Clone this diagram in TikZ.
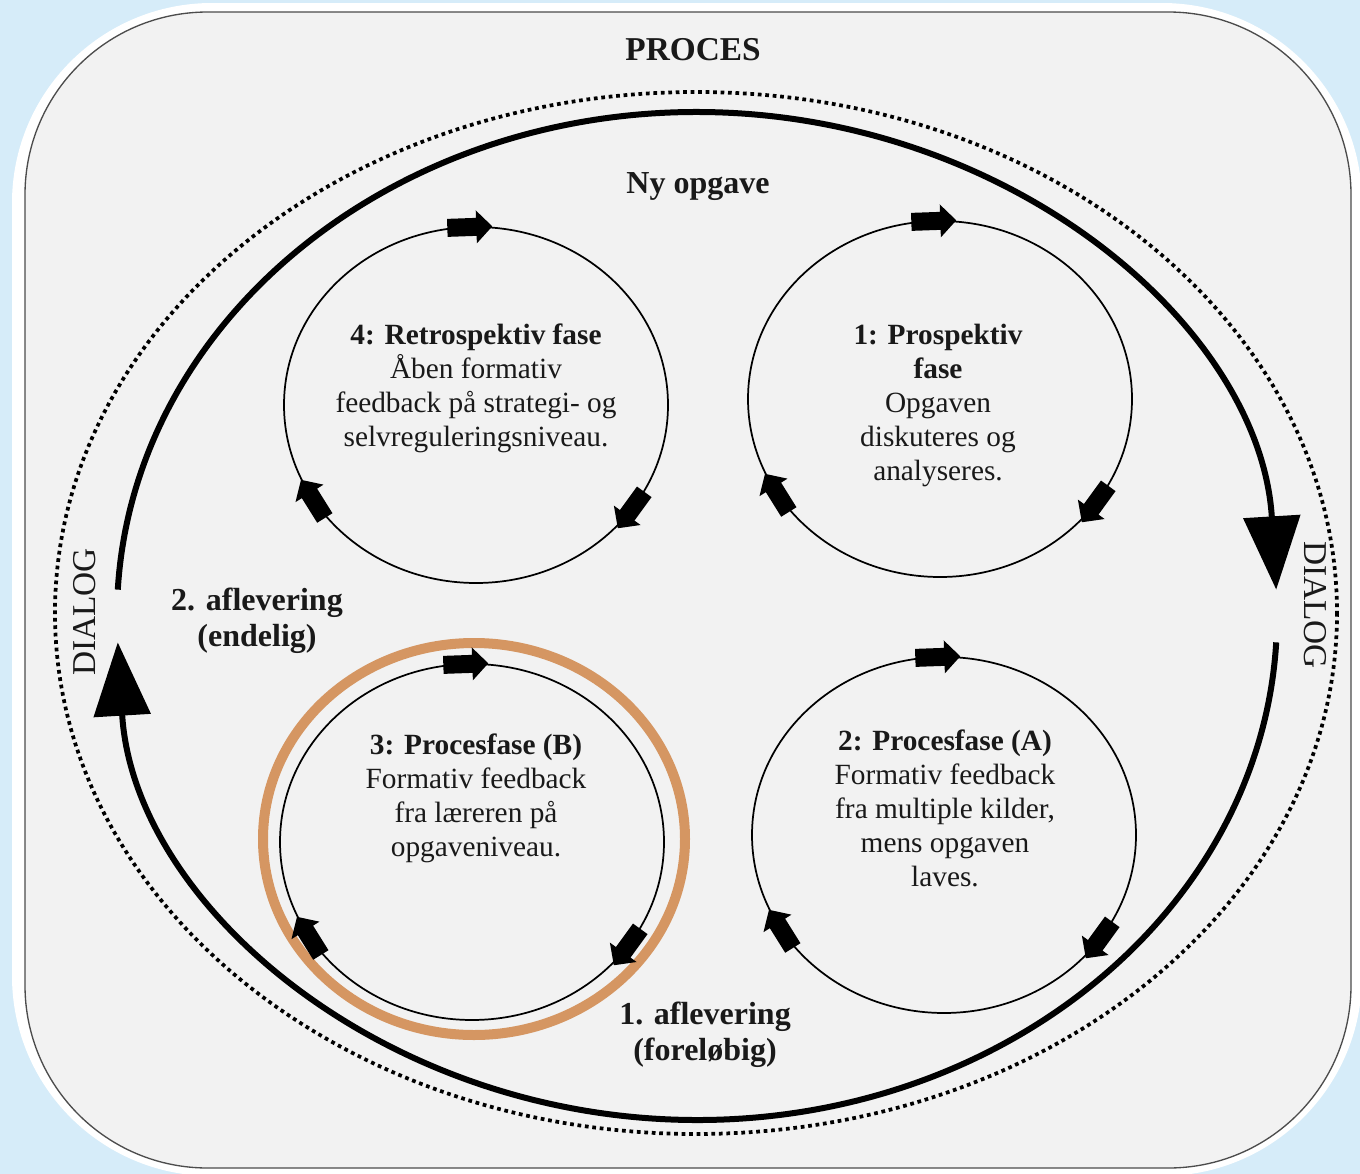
\documentclass[tikz,border=0pt]{standalone}
\usepackage{fontspec}
\setmainfont{Liberation Serif}
\usetikzlibrary{arrows.meta}

\definecolor{baggrund}{RGB}{214,236,249}
\definecolor{procesgraa}{RGB}{242,242,242}
\definecolor{ringfarve}{RGB}{213,150,98}

\begin{document}
\begin{tikzpicture}[x=0.75pt,y=0.75pt,yscale=-1,xscale=1,
  fasecirkel/.style={line width=1.3pt},
  tekst/.style={inner sep=0.75pt, align=center, font=\fontsize{22}{25.5}\selectfont, text=black!90},
  fed/.style={inner sep=0.75pt, align=center, font=\fontsize{24}{27}\selectfont\bfseries, text=black!90},
  blokpil/.pic={\fill (-22,-9) -- (7,-9) -- (7,-16.5) -- (23,0) -- (7,16.5) -- (7,9) -- (-22,9) -- cycle;}
]
\useasboundingbox (0,0) rectangle (1360,1174);

%Shape: Background
\fill [baggrund] (0,0) rectangle (1360,1174);
%Shape: Rounded Rectangle (white frame)
\fill [white, rounded corners=150pt] (12,3) rectangle (1362,1176);
%Shape: Rounded Rectangle (proces)
\draw [draw=black!70, fill=procesgraa, line width=1pt, rounded corners=137pt] (25,12) rectangle (1351,1168);

%Shape: Ellipse (dotted)
\draw [line width=2.8pt, dash pattern={on 2.8pt off 2.8pt}] (696,613) ellipse [x radius=641, y radius=521];

%Shape: Arc (upper, towards right)
\draw [line width=4.5pt, -{Triangle[length=55pt,width=42pt]}] (697,616) ++(183:580 and 504) arc [start angle=183, end angle=357, x radius=580, y radius=504];
%Shape: Arc (lower, towards left)
\draw [line width=4.5pt, -{Triangle[length=55pt,width=42pt]}] (697,616) ++(3:580 and 504) arc [start angle=3, end angle=177, x radius=580, y radius=504];

% centres of the phases
\coordinate (fase1) at (940,399);
\coordinate (fase2) at (944,835);
\coordinate (fase3) at (472,842);
\coordinate (fase4) at (476,405);

%Shape: Ring (orange) round phase 3
\draw [ringfarve, line width=7.5pt] (474,839) ellipse [x radius=211, y radius=196];

%Shape: Circle phase 4
\draw [fasecirkel] (fase4) ellipse [x radius=192, y radius=178];
\path (fase4) ++(-92:192 and 178) pic [rotate=2] {blokpil};
\path (fase4) ++(36:192 and 178) pic [rotate=-126] {blokpil};
\path (fase4) ++(148:192 and 178) pic [rotate=122] {blokpil};
%Shape: Circle phase 1
\draw [fasecirkel] (fase1) ellipse [x radius=192, y radius=178];
\path (fase1) ++(-92:192 and 178) pic [rotate=2] {blokpil};
\path (fase1) ++(36:192 and 178) pic [rotate=-126] {blokpil};
\path (fase1) ++(148:192 and 178) pic [rotate=122] {blokpil};
%Shape: Circle phase 2
\draw [fasecirkel] (fase2) ellipse [x radius=192, y radius=178];
\path (fase2) ++(-92:192 and 178) pic [rotate=2] {blokpil};
\path (fase2) ++(36:192 and 178) pic [rotate=-126] {blokpil};
\path (fase2) ++(148:192 and 178) pic [rotate=122] {blokpil};
%Shape: Circle phase 3
\draw [fasecirkel] (fase3) ellipse [x radius=192, y radius=178];
\path (fase3) ++(-92:192 and 178) pic [rotate=2] {blokpil};
\path (fase3) ++(36:192 and 178) pic [rotate=-126] {blokpil};
\path (fase3) ++(148:192 and 178) pic [rotate=122] {blokpil};

% Text Node
\node [fed, font=\fontsize{25}{28}\selectfont\bfseries] (proces) at (693,50) {PROCES};
% Text Node
\node [fed] (nyopgave) at (698,187) {Ny opgave};
% Text Node
\node [tekst] (tekst4) at (476,388) {\textbf{4: Retrospektiv fase}\\Åben formativ\\feedback på strategi- og\\selvreguleringsniveau.};
% Text Node
\node [tekst] (tekst1) at (938,405) {\textbf{1: Prospektiv}\\\textbf{fase}\\Opgaven\\diskuteres og\\analyseres.};
% Text Node
\node [tekst] (tekst2) at (945,808) {\textbf{2: Procesfase (A)}\\Formativ feedback\\fra multiple kilder,\\mens opgaven\\laves.};
% Text Node
\node [tekst] (tekst3) at (476,798) {\textbf{3: Procesfase (B)}\\Formativ feedback\\fra læreren på\\opgaveniveau.};
% Text Node
\node [fed] (aflevering2) at (257,621) {2. aflevering\\(endelig)};
% Text Node
\node [fed] (aflevering1) at (705,1035) {1. aflevering\\(foreløbig)};
% Text Node
\node [inner sep=0.75pt, font=\fontsize{25}{28}\selectfont, text=black!90, rotate=90] (dialogv) at (85,612) {DIALOG};
% Text Node
\node [inner sep=0.75pt, font=\fontsize{25}{28}\selectfont, text=black!90, rotate=-90] (dialogh) at (1315,605) {DIALOG};

\end{tikzpicture}
\end{document}
